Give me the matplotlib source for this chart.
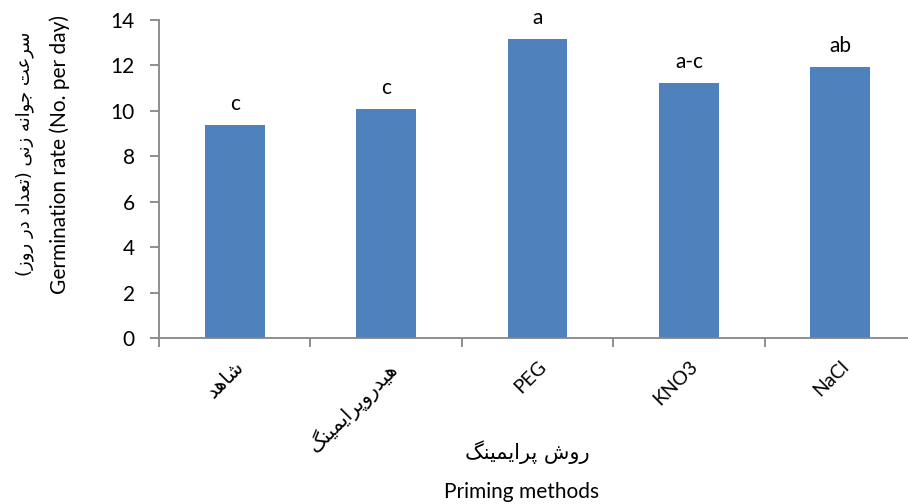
import matplotlib
matplotlib.use("Agg")
import matplotlib.pyplot as plt

# Presentation forms (isolated, final, initial, medial) for the Persian letters used
FORMS = {
    "ا": ("\uFE8D", "\uFE8E"),
    "د": ("\uFEA9", "\uFEAA"),
    "ر": ("\uFEAD", "\uFEAE"),
    "ز": ("\uFEAF", "\uFEB0"),
    "و": ("\uFEED", "\uFEEE"),
    "پ": ("\uFB56", "\uFB57", "\uFB58", "\uFB59"),
    "ت": ("\uFE95", "\uFE96", "\uFE97", "\uFE98"),
    "ج": ("\uFE9D", "\uFE9E", "\uFE9F", "\uFEA0"),
    "س": ("\uFEB1", "\uFEB2", "\uFEB3", "\uFEB4"),
    "ش": ("\uFEB5", "\uFEB6", "\uFEB7", "\uFEB8"),
    "ع": ("\uFEC9", "\uFECA", "\uFECB", "\uFECC"),
    "م": ("\uFEE1", "\uFEE2", "\uFEE3", "\uFEE4"),
    "ن": ("\uFEE5", "\uFEE6", "\uFEE7", "\uFEE8"),
    "ه": ("\uFEE9", "\uFEEA", "\uFEEB", "\uFEEC"),
    "ی": ("\uFBFC", "\uFBFD", "\uFBFE", "\uFBFF"),
    "گ": ("\uFB92", "\uFB93", "\uFB94", "\uFB95"),
}


def fa(text):
    """Join Persian letters and put them in visual (left-to-right) order."""
    out = []
    for i, c in enumerate(text):
        if c not in FORMS:
            out.append(c)
            continue
        f = FORMS[c]
        prev = text[i - 1] if i > 0 else ""
        nxt = text[i + 1] if i + 1 < len(text) else ""
        join_prev = prev in FORMS and len(FORMS[prev]) == 4
        join_next = nxt in FORMS and len(f) == 4
        if join_prev and join_next:
            out.append(f[3])
        elif join_prev:
            out.append(f[1])
        elif join_next:
            out.append(f[2])
        else:
            out.append(f[0])
    s = "".join(out)[::-1]
    return s.translate(str.maketrans("()", ")("))


# data
methods = ["شاهد", "هیدروپرایمینگ", "PEG", "KNO3", "NaCl"]
rate = [9.38, 10.08, 13.17, 11.23, 11.94]
letters = ["c", "c", "a", "a-c", "ab"]

plt.rcParams["font.family"] = ["Lato", "DejaVu Sans"]

fig = plt.figure(figsize=(9.08, 5.04), dpi=100)
ax = fig.add_axes([159 / 908, 1 - 338 / 504, 757 / 908, 318 / 504])

x = list(range(len(methods)))
ax.bar(x, rate, width=0.396, color="#4F81BD", zorder=2)

for xi, v, lab in zip(x, rate, letters):
    ax.annotate(lab, (xi, v), xytext=(0, 11), textcoords="offset points",
                ha="center", va="baseline", fontsize=15)

ax.set_xlim(-0.5, 4.5)
ax.set_ylim(0, 14)
ax.set_yticks(range(0, 15, 2))

axis_grey = "#868686"
for side in ["top", "right"]:
    ax.spines[side].set_visible(False)
for side in ["left", "bottom"]:
    ax.spines[side].set_color(axis_grey)
    ax.spines[side].set_linewidth(1.3)

ax.tick_params(axis="y", direction="out", length=6.5, width=1.3,
               color=axis_grey, labelsize=15, pad=11)
ax.set_xticks(x)
ax.set_xticks([i - 0.5 for i in range(len(methods) + 1)], minor=True)
ax.tick_params(axis="x", which="major", length=0, pad=14)
ax.tick_params(axis="x", which="minor", direction="out", length=6.5,
               width=1.3, color=axis_grey)

labels = []
for m in methods:
    if m.isascii():
        labels.append(m)
    else:
        labels.append(fa(m))
ax.set_xticklabels(labels, rotation=45, ha="right", va="top",
                   rotation_mode="anchor", fontsize=14)
for t, m in zip(ax.get_xticklabels(), methods):
    if not m.isascii():
        t.set_fontfamily("DejaVu Sans")
        t.set_fontsize(14.5)

# axis titles in Persian and English
fig.text(60 / 908, 1 - 155 / 504, "Germination rate (No. per day)",
         rotation=90, ha="center", va="center", fontsize=15)
fig.text(25 / 908, 1 - 154 / 504, fa("سرعت جوانه زنی (تعداد در روز)"),
         rotation=90, ha="center", va="center", fontsize=13,
         family="DejaVu Sans")
fig.text(527 / 908, 1 - 452 / 504, fa("روش پرایمینگ"),
         ha="center", va="center", fontsize=15, family="DejaVu Sans")
fig.text(522 / 908, 1 - 492 / 504, "Priming methods",
         ha="center", va="center", fontsize=15)

fig.savefig("out.png", dpi=100)
